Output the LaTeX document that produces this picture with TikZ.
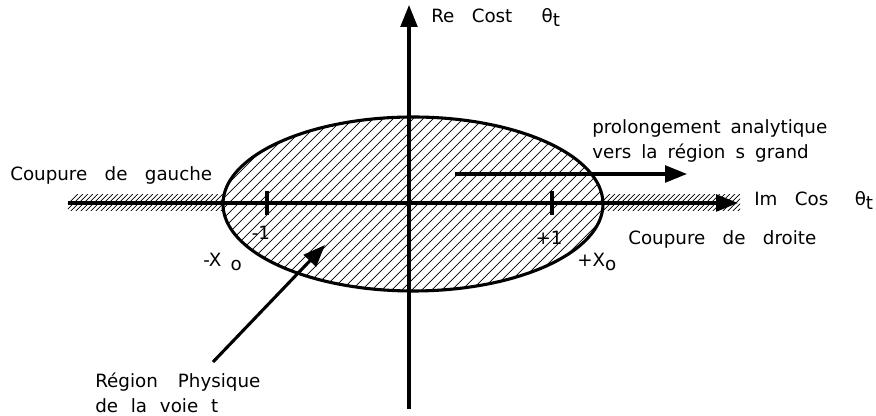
\documentclass[tikz,border=0pt]{standalone}
\usepackage{fontspec}
\setmainfont{DejaVu Sans}
\usetikzlibrary{arrows.meta}

\newcommand\thetat{θ\raisebox{-0.4ex}{t}}
\newcommand\widesp{\spaceskip=0.95em plus 0.1em\relax}
\newcommand\midsp{\spaceskip=0.55em plus 0.1em\relax}
\newcommand\bigsp{\spaceskip=1.1em plus 0.1em\relax}
\newcommand\smallsp{\spaceskip=0.7em plus 0.1em\relax}

\tikzset{
  axis/.style={line width=2.2pt, -{Triangle[length=0.55cm,width=0.42cm]}},
  bord/.style={line width=2.2pt},
  hatch/.style={line width=0.5pt},
  lbl/.style={inner sep=0pt, font=\fontsize{13}{16}\selectfont},
}

\begin{document}
\begin{tikzpicture}
\useasboundingbox (-10.225,-5.325) rectangle (11.675,5.075);

% Hatched ellipse (region of convergence)
\begin{scope}
\clip (0.1,-0.025) ellipse (4.75 and 2.175);
\foreach \i in {-32,...,32} {
    \draw[hatch] ({\i*0.25-2.5},-2.5) -- ++(5,5);
}
\end{scope}

% Left and right cuts
\begin{scope}
\clip (-8.525,-0.2) rectangle (-4.65,0.2);
\foreach \i in {0,...,36} {
    \draw[hatch] ({-8.8+\i*0.125},-0.3) -- ++(0.6,0.6);
}
\end{scope}
\begin{scope}
\clip (4.85,-0.2) rectangle (8.275,0.2);
\foreach \i in {0,...,32} {
    \draw[hatch] ({4.5+\i*0.125},-0.3) -- ++(0.6,0.6);
}
\end{scope}

\draw[bord] (0.1,-0.025) ellipse (4.75 and 2.175);

% Axes
\coordinate (xmin) at (-8.525,0);
\coordinate (xmax) at (8.225,0);
\coordinate (ymin) at (0,-5.15);
\coordinate (ymax) at (0,4.95);
\draw[axis] (xmin) -- (xmax);
\draw[axis] (ymin) -- (ymax);

% Ticks at -1 and +1
\foreach \x in {-3.55,3.575} {
    \draw[bord] (\x,-0.3) -- (\x,0.3);
}

% Labels
\node[lbl,anchor=west] (recos) at (0.55,4.65) {\widesp Re Cost\hspace{1.6em}\thetat};
\node[lbl,anchor=west] (imcos) at (8.625,0.075) {\widesp Im Cos\hspace{1.45em}\thetat};
\node[lbl,anchor=west] (gauche) at (-9.975,0.7) {\widesp Coupure de gauche};
\node[lbl,anchor=west] (droite) at (5.475,-0.9) {\widesp Coupure de droite};
\node[lbl,anchor=west,align=left,font=\fontsize{13}{17.7}\selectfont] (prolong) at (4.575,1.55)
    {\midsp prolongement analytique\\\midsp vers la région s grand};
\node[lbl] (moins1) at (-3.7,-0.75) {-1};
\node[lbl] (plus1) at (3.5,-0.875) {+1};
\node[lbl,anchor=west] (moinsx) at (-5.15,-1.475) {-X\hspace{0.5em}\raisebox{-0.4ex}{o}};
\node[lbl,anchor=west] (plusx) at (4.2,-1.475) {+X\raisebox{-0.35ex}{o}};
\node[lbl,anchor=west,align=left,font=\fontsize{13}{17.7}\selectfont] (physique) at (-7.85,-4.75)
    {\bigsp Région Physique\\\smallsp de la voie t};

% Arrows
\coordinate (pstart) at (1.15,0.725);
\coordinate (pend) at (6.95,0.725);
\draw[axis] (pstart) -- (pend);
\coordinate (rstart) at (-4.9,-3.975);
\coordinate (rend) at (-2.1,-1.05);
\draw[axis] (rstart) -- (rend);
\end{tikzpicture}
\end{document}
